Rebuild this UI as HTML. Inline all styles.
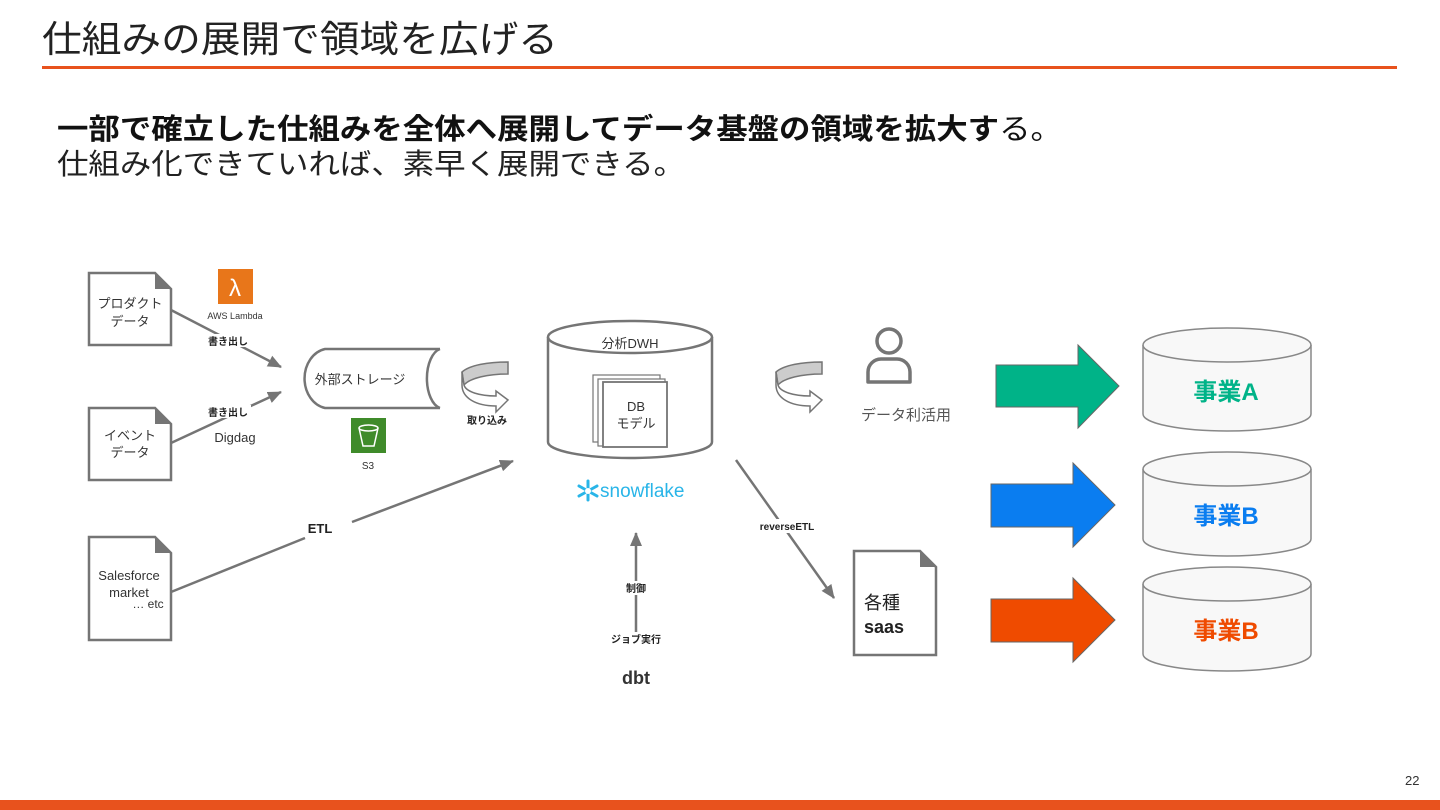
<!DOCTYPE html>
<html><head><meta charset="utf-8"><style>
html,body{margin:0;padding:0;background:#fff;}
svg{display:block;font-family:"Liberation Sans","Noto Sans CJK JP",sans-serif;}
</style></head><body>
<svg width="1440" height="810" viewBox="0 0 1440 810" xmlns="http://www.w3.org/2000/svg">
<defs>
<marker id="ah" markerWidth="14" markerHeight="12" refX="13" refY="6" orient="auto" markerUnits="userSpaceOnUse">
<path d="M0,0 L14,6 L0,12 Z" fill="#757575"/></marker>
</defs>
<rect width="1440" height="810" fill="#fff"/>
<text x="42" y="52" font-size="37" fill="#222" textLength="516" lengthAdjust="spacingAndGlyphs">仕組みの展開で領域を広げる</text>
<rect x="42" y="66" width="1355" height="3" fill="#e8521d"/>
<rect x="0" y="800" width="1440" height="10" fill="#e8521d"/>
<text x="1405" y="785" font-size="13" fill="#333">22</text>

<text x="57" y="139" font-size="29" fill="#111" textLength="1005" lengthAdjust="spacingAndGlyphs"><tspan font-weight="bold">一部で確立した仕組みを全体へ展開してデータ基盤の領域を拡大す</tspan>る。</text>
<text x="57" y="174" font-size="29" fill="#222" textLength="628" lengthAdjust="spacingAndGlyphs">仕組み化できていれば、素早く展開できる。</text>

<!-- documents -->
<g fill="#fff" stroke="#757575" stroke-width="2.5">
<path d="M89,273 H155 L171,289 V345 H89 Z"/>
<path d="M89,408 H155 L171,424 V480 H89 Z"/>
<path d="M89,537 H155 L171,553 V640 H89 Z"/>
<path d="M854,551 H920 L936,567 V655 H854 Z"/>
</g>
<g fill="#757575">
<path d="M155,273 L171,289 H155 Z"/><path d="M155,408 L171,424 H155 Z"/>
<path d="M155,537 L171,553 H155 Z"/><path d="M920,551 L936,567 H920 Z"/>
</g>
<g font-size="13" fill="#333" text-anchor="middle">
<text x="130" y="308">プロダクト</text><text x="130" y="326">データ</text>
<text x="130" y="440">イベント</text><text x="130" y="457">データ</text>
<text x="129" y="580">Salesforce</text><text x="129" y="597">market</text>
<text x="148" y="608" font-size="12">… etc</text>
</g>
<text x="864" y="609" font-size="18" fill="#222">各種</text>
<text x="864" y="633" font-size="18" font-weight="bold" fill="#222">saas</text>

<!-- connectors -->
<g stroke="#757575" stroke-width="2.5" fill="none">
<line x1="171" y1="310" x2="281" y2="367" marker-end="url(#ah)"/>
<line x1="171" y1="443" x2="281" y2="392" marker-end="url(#ah)"/>
<line x1="171" y1="592" x2="305" y2="538"/>
<line x1="352" y1="522" x2="513" y2="461" marker-end="url(#ah)"/>
<line x1="636" y1="648" x2="636" y2="533" marker-end="url(#ah)"/>
<line x1="736" y1="460" x2="834" y2="598" marker-end="url(#ah)"/>
</g>
<g font-size="10" font-weight="bold" fill="#222" text-anchor="middle">
<rect x="205" y="334" width="46" height="13" fill="#fff"/><text x="228" y="345">書き出し</text>
<rect x="205" y="405" width="46" height="13" fill="#fff"/><text x="228" y="416">書き出し</text>
<text x="487" y="424">取り込み</text>
<rect x="618" y="581" width="36" height="14" fill="#fff"/><text x="636" y="592">制御</text>
<rect x="606" y="632" width="60" height="16" fill="#fff"/><text x="636" y="643">ジョブ実行</text>
<rect x="756" y="519" width="64" height="14" fill="#fff"/><text x="787" y="530">reverseETL</text>
</g>
<text x="320" y="533" font-size="13" font-weight="bold" fill="#222" text-anchor="middle">ETL</text>
<text x="235" y="442" font-size="13" fill="#333" text-anchor="middle">Digdag</text>

<!-- lambda -->
<rect x="218" y="269" width="35" height="35" fill="#e8761a"/>
<text x="235" y="296" font-size="24" fill="#fff" text-anchor="middle">λ</text>
<text x="235" y="319" font-size="9" fill="#333" text-anchor="middle">AWS Lambda</text>
<!-- S3 -->
<rect x="351" y="418" width="35" height="35" fill="#3f8b2a"/>
<path d="M359,428 L363,446 H374 L378,428" fill="none" stroke="#fff" stroke-width="1.5"/>
<ellipse cx="368.5" cy="428" rx="9.5" ry="3" fill="none" stroke="#fff" stroke-width="1.5"/>
<text x="368" y="469" font-size="10" fill="#333" text-anchor="middle">S3</text>

<!-- storage horizontal cylinder -->
<path d="M440,349 H325 A25,30 0 0 0 325,408 H440" fill="#fff" stroke="#757575" stroke-width="2.5"/>
<path d="M440,349 A16,30 0 0 0 440,408" fill="none" stroke="#757575" stroke-width="2.5"/>
<text x="360" y="384" font-size="13" fill="#333" text-anchor="middle">外部ストレージ</text>

<!-- curved arrows -->
<g stroke="#757575" stroke-width="1.5">
<path d="M508,362 L508,374 C488,374 470,378 464,385 L462,372 C470,365 488,362 508,362 Z" fill="#ccc"/>
<path d="M462,372 L464,385 C466,392 480,396 496,396 L496,391 L508,400 L496,412 L496,406 C476,406 462,398 462,385 Z" fill="#fff"/>
<path d="M822,362 L822,374 C802,374 784,378 778,385 L776,372 C784,365 802,362 822,362 Z" fill="#ccc"/>
<path d="M776,372 L778,385 C780,392 794,396 810,396 L810,391 L822,400 L810,412 L810,406 C790,406 776,398 776,385 Z" fill="#fff"/>
</g>

<!-- DWH cylinder -->
<path d="M548,337 V442 A82,16 0 0 0 712,442 V337" fill="#fff" stroke="#757575" stroke-width="2.5"/>
<ellipse cx="630" cy="337" rx="82" ry="16" fill="#fff" stroke="#757575" stroke-width="2.5"/>
<text x="630" y="348" font-size="13" fill="#333" text-anchor="middle">分析DWH</text>
<g fill="#fff" stroke="#757575" stroke-width="1.2">
<rect x="593" y="375" width="67" height="67"/><rect x="598" y="379" width="67" height="67"/><rect x="603" y="382" width="64" height="65" stroke-width="1.8"/>
</g>
<text x="636" y="411" font-size="13" fill="#333" text-anchor="middle">DB</text>
<text x="636" y="428" font-size="13" fill="#333" text-anchor="middle">モデル</text>
<!-- snowflake -->
<g stroke="#29b5e8" stroke-width="3" stroke-linecap="round">
<line x1="588" y1="481" x2="588" y2="500"/><line x1="579" y1="486" x2="597" y2="496"/><line x1="579" y1="496" x2="597" y2="486"/>
</g>
<circle cx="588" cy="491" r="3" fill="#fff"/>
<text x="600" y="497" font-size="19" fill="#29b5e8">snowflake</text>
<text x="636" y="684" font-size="18" font-weight="bold" fill="#333" text-anchor="middle">dbt</text>

<!-- person -->
<circle cx="889" cy="341" r="12" fill="none" stroke="#757575" stroke-width="3.5"/>
<path d="M868,382 V372 A13,13 0 0 1 881,359 H897 A13,13 0 0 1 910,372 V382 Z" fill="none" stroke="#757575" stroke-width="3.5" stroke-linejoin="round"/>
<text x="906" y="420" font-size="15" fill="#555" text-anchor="middle">データ利活用</text>

<!-- big arrows -->
<path d="M996,365 H1078 V345 L1119,386 L1078,428 V407 H996 Z" fill="#00b388" stroke="#666" stroke-width="1"/>
<path d="M991,484 H1073 V463 L1115,505 L1073,547 V527 H991 Z" fill="#0a7df0" stroke="#666" stroke-width="1"/>
<path d="M991,599 H1073 V578 L1115,620 L1073,662 V642 H991 Z" fill="#ef4b00" stroke="#666" stroke-width="1"/>

<!-- right cylinders -->
<g fill="#f8f8f8" stroke="#888" stroke-width="1.5">
<path d="M1143,345 V414 A84,17 0 0 0 1311,414 V345"/><ellipse cx="1227" cy="345" rx="84" ry="17"/>
<path d="M1143,469 V539 A84,17 0 0 0 1311,539 V469"/><ellipse cx="1227" cy="469" rx="84" ry="17"/>
<path d="M1143,584 V654 A84,17 0 0 0 1311,654 V584"/><ellipse cx="1227" cy="584" rx="84" ry="17"/>
</g>
<g font-size="24" font-weight="bold" text-anchor="middle">
<text x="1226" y="400" fill="#00b388">事業A</text>
<text x="1226" y="524" fill="#0a7df0">事業B</text>
<text x="1226" y="639" fill="#ef4b00">事業B</text>
</g>
</svg>
</body></html>
